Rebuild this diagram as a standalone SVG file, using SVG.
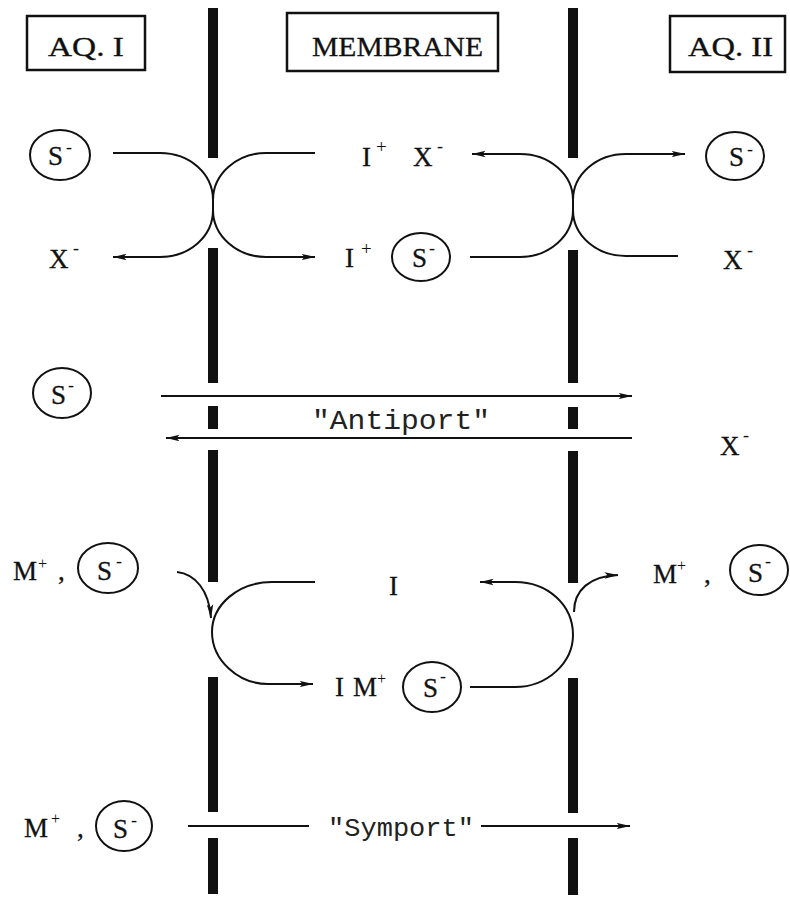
<svg xmlns="http://www.w3.org/2000/svg" width="790" height="905" viewBox="0 0 790 905">
<defs>
<style>
.t{font-family:"Liberation Serif","Times New Roman",serif;font-size:27px;fill:#111;stroke:#111;stroke-width:0.3}
.sup{font-family:"Liberation Serif","Times New Roman",serif;font-size:18px;fill:#111}
.supp{font-family:"Liberation Serif","Times New Roman",serif;font-size:19px;fill:#111}
.supm{font-family:"Liberation Serif","Times New Roman",serif;font-size:16px;fill:#111}
.mono{font-family:"Liberation Mono","Courier New",monospace;fill:#222}
.box{fill:none;stroke:#111;stroke-width:2.5}
.mol{fill:none;stroke:#111;stroke-width:2}
.bar{fill:#111}
.c{fill:none;stroke:#111;stroke-width:2}
</style>
<marker id="ah" viewBox="0 0 14 8" refX="13.5" refY="4" markerWidth="14" markerHeight="8" orient="auto" markerUnits="userSpaceOnUse">
<path d="M0,0.8 L14,4 L0,7.2 L3,4 z" fill="#111"/>
</marker>
</defs>
<rect width="790" height="905" fill="#fff"/>

<g id="membrane-left">
<rect class="bar" x="208" y="8" width="10" height="150"/>
<rect class="bar" x="208" y="248" width="10" height="135"/>
<rect class="bar" x="208" y="406" width="10" height="23"/>
<rect class="bar" x="208" y="450" width="10" height="132"/>
<rect class="bar" x="208" y="677" width="10" height="135"/>
<rect class="bar" x="208" y="838" width="10" height="56"/>
</g>
<g id="membrane-right">
<rect class="bar" x="568" y="8" width="10" height="150"/>
<rect class="bar" x="568" y="250" width="10" height="133"/>
<rect class="bar" x="568" y="407" width="10" height="22"/>
<rect class="bar" x="568" y="451" width="10" height="132"/>
<rect class="bar" x="568" y="678" width="10" height="135"/>
<rect class="bar" x="568" y="838" width="10" height="57"/>
</g>

<g id="label-aq1">
<rect class="box" x="27" y="16" width="118" height="54"/>
<text class="t" x="48" y="56" textLength="76" lengthAdjust="spacingAndGlyphs">AQ. I</text>
</g>
<g id="label-membrane">
<rect class="box" x="287" y="13" width="211" height="58"/>
<text class="t" x="312" y="56" textLength="171" lengthAdjust="spacingAndGlyphs">MEMBRANE</text>
</g>
<g id="label-aq2">
<rect class="box" x="670" y="16" width="115" height="56"/>
<text class="t" x="688" y="56" textLength="85" lengthAdjust="spacingAndGlyphs">AQ. II</text>
</g>

<!-- Mechanism 1 -->
<g id="m1-s-left">
<ellipse class="mol" cx="60" cy="155" rx="30" ry="25"/>
<text class="t" x="48" y="165">S</text><text class="sup" x="66" y="153">-</text>
</g>
<g id="m1-x-left">
<text class="t" x="49" y="268">X</text><text class="sup" x="73" y="254">-</text>
</g>
<g id="m1-ix-mid">
<text class="t" x="362" y="166">I</text><text class="supp" x="376" y="153">+</text>
<text class="t" x="413" y="166">X</text><text class="sup" x="437" y="152">-</text>
</g>
<g id="m1-is-mid">
<text class="t" x="345" y="267">I</text><text class="supp" x="361" y="255">+</text>
<ellipse class="mol" cx="421" cy="257" rx="29" ry="24"/>
<text class="t" x="412" y="267">S</text><text class="sup" x="429" y="254">-</text>
</g>
<g id="m1-s-right">
<ellipse class="mol" cx="735" cy="156" rx="29" ry="24"/>
<text class="t" x="729" y="166">S</text><text class="sup" x="747" y="155">-</text>
</g>
<g id="m1-x-right">
<text class="t" x="723" y="269">X</text><text class="sup" x="747" y="256">-</text>
</g>

<!-- Antiport -->
<g id="ap-s-left">
<ellipse class="mol" cx="62" cy="393" rx="29" ry="25"/>
<text class="t" x="51" y="404">S</text><text class="sup" x="68" y="391">-</text>
</g>
<g id="ap-x-right">
<text class="t" x="720" y="455">X</text><text class="sup" x="743" y="441">-</text>
</g>
<g id="ap-label">
<text class="mono" x="312" y="429" font-size="28" textLength="178" lengthAdjust="spacingAndGlyphs">"Antiport"</text>
</g>

<!-- Mechanism 2 -->
<g id="m2-ms-left">
<text class="t" x="13" y="580">M</text><text class="supm" x="38" y="569">+</text>
<text class="t" x="58" y="580">,</text>
<ellipse class="mol" cx="108" cy="568" rx="30" ry="25"/>
<text class="t" x="97" y="580">S</text><text class="sup" x="116" y="567">-</text>
</g>
<g id="m2-i-mid">
<text class="t" x="389" y="595">I</text>
</g>
<g id="m2-ims-mid">
<text class="t" x="335" y="696">I</text>
<text class="t" x="353" y="696">M</text><text class="supm" x="377" y="684">+</text>
<ellipse class="mol" cx="432" cy="687" rx="29" ry="25"/>
<text class="t" x="423" y="697">S</text><text class="sup" x="440" y="682">-</text>
</g>
<g id="m2-ms-right">
<text class="t" x="653" y="583">M</text><text class="supm" x="677" y="571">+</text>
<text class="t" x="704" y="583">,</text>
<ellipse class="mol" cx="759" cy="570" rx="29" ry="25"/>
<text class="t" x="748" y="582">S</text><text class="sup" x="765" y="567">-</text>
</g>

<!-- Symport -->
<g id="sp-ms-left">
<text class="t" x="24" y="837">M</text><text class="supm" x="51" y="824">+</text>
<text class="t" x="77" y="837">,</text>
<ellipse class="mol" cx="124" cy="826" rx="28" ry="25"/>
<text class="t" x="113" y="838">S</text><text class="sup" x="131" y="826">-</text>
</g>
<g id="sp-label">
<text class="mono" x="328" y="836" font-size="25" textLength="146" lengthAdjust="spacingAndGlyphs">"Symport"</text>
</g>

<g id="connectors">
<!-- mechanism 1 left -->
<path class="c" d="M113,153 H160 C190,153 213,174 213,200 V210 C213,236 190,257 160,257 H113" marker-end="url(#ah)"/>
<path class="c" d="M315,153 H266 C237,153 213,174 213,200 V210 C213,236 237,257 266,257 H315" marker-end="url(#ah)"/>
<!-- mechanism 1 right -->
<path class="c" d="M470,257 H520 C549,257 573,236 573,210 V200 C573,174 549,154 520,154 H472" marker-end="url(#ah)"/>
<path class="c" d="M678,256 H626 C597,256 573,236 573,210 V200 C573,174 597,154 626,154 H685" marker-end="url(#ah)"/>
<!-- antiport -->
<path class="c" d="M161,396 H632" marker-end="url(#ah)"/>
<path class="c" d="M632,438 H166" marker-end="url(#ah)"/>
<!-- mechanism 2 -->
<path class="c" d="M177,572 C195,574 209,590 211,618" marker-end="url(#ah)"/>
<path class="c" d="M315,582 H272 C238,582 212,605 212,632 C212,660 238,684 268,684 H313" marker-end="url(#ah)"/>
<path class="c" d="M470,687 H515 C548,687 573,662 573,635 C573,605 548,582 515,582 H480" marker-end="url(#ah)"/>
<path class="c" d="M574,612 C574,590 590,576 618,575" marker-end="url(#ah)"/>
<!-- symport -->
<path class="c" d="M188,826 H309"/>
<path class="c" d="M481,826 H630" marker-end="url(#ah)"/>
</g>
</svg>
